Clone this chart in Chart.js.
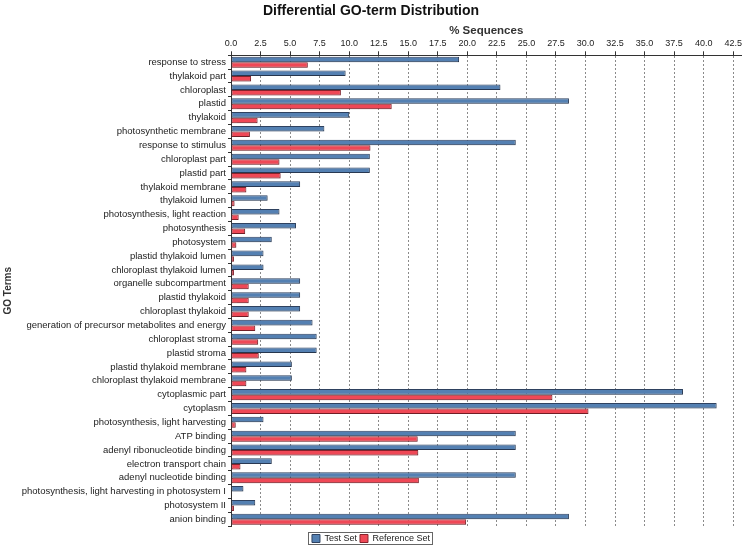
<!DOCTYPE html>
<html>
<head>
<meta charset="utf-8">
<script src="https://cdn.jsdelivr.net/npm/chart.js@4/dist/chart.umd.min.js"></script>
<style>
  html, body { margin: 0; padding: 0; background: #ffffff; }
  #wrap { width: 745px; height: 553px; }
</style>
</head>
<body>
<div id="wrap"><canvas id="c" width="745" height="553"></canvas></div>
<script>
const categories = [
  'response to stress', 'thylakoid part', 'chloroplast', 'plastid', 'thylakoid',
  'photosynthetic membrane', 'response to stimulus', 'chloroplast part', 'plastid part',
  'thylakoid membrane', 'thylakoid lumen', 'photosynthesis, light reaction', 'photosynthesis',
  'photosystem', 'plastid thylakoid lumen', 'chloroplast thylakoid lumen',
  'organelle subcompartment', 'plastid thylakoid', 'chloroplast thylakoid',
  'generation of precursor metabolites and energy', 'chloroplast stroma', 'plastid stroma',
  'plastid thylakoid membrane', 'chloroplast thylakoid membrane', 'cytoplasmic part',
  'cytoplasm', 'photosynthesis, light harvesting', 'ATP binding',
  'adenyl ribonucleotide binding', 'electron transport chain', 'adenyl nucleotide binding',
  'photosynthesis, light harvesting in photosystem I', 'photosystem II', 'anion binding'
];
const testSet = [
  19.3, 9.7, 22.8, 28.6, 10.0, 7.9, 24.1, 11.75, 11.75, 5.85, 3.1, 4.1, 5.5, 3.45,
  2.75, 2.75, 5.85, 5.85, 5.85, 6.9, 7.25, 7.25, 5.15, 5.15, 38.25, 41.1, 2.75,
  24.1, 24.1, 3.45, 24.1, 1.05, 2.05, 28.6
];
const referenceSet = [
  6.5, 1.7, 9.3, 13.6, 2.25, 1.6, 11.8, 4.1, 4.2, 1.3, 0.3, 0.65, 1.2, 0.45,
  0.25, 0.25, 1.5, 1.5, 1.5, 2.05, 2.3, 2.35, 1.3, 1.3, 27.2, 30.25, 0.4,
  15.8, 15.85, 0.8, 15.9, 0.05, 0.25, 19.9
];
const seriesNames = ['Test Set', 'Reference Set'];
const xTickStep = 2.5;
const xMin = 0;
const xMax = 43.2;

const FONT = "'Liberation Sans', Arial, Helvetica, sans-serif";

const shadowPlugin = {
  id: 'barShadow',
  beforeDatasetsDraw(chart) {
    const ctx = chart.ctx;
    ctx.save();
    ctx.shadowColor = 'rgba(0,0,0,0.18)';
    ctx.shadowOffsetX = 1;
    ctx.shadowOffsetY = 1;
    ctx.shadowBlur = 1.5;
  },
  afterDatasetsDraw(chart) {
    chart.ctx.restore();
  }
};

const legendBoxPlugin = {
  id: 'legendBox',
  afterDraw(chart) {
    const lg = chart.legend;
    if (!lg || !lg.legendHitBoxes || !lg.legendHitBoxes.length) return;
    let l = Infinity, r = -Infinity, t = Infinity, b = -Infinity;
    lg.legendHitBoxes.forEach(h => {
      l = Math.min(l, h.left); r = Math.max(r, h.left + h.width);
      t = Math.min(t, h.top); b = Math.max(b, h.top + h.height);
    });
    const ctx = chart.ctx;
    ctx.save();
    ctx.strokeStyle = '#666';
    ctx.lineWidth = 1;
    ctx.strokeRect(Math.round(l - 4) + 0.5, Math.round(t - 2) + 0.5, Math.round(r - l + 6), Math.round(b - t + 3));
    ctx.restore();
  }
};

new Chart(document.getElementById('c'), {
  type: 'bar',
  data: {
    labels: categories,
    datasets: [
      {
        label: seriesNames[0],
        data: testSet,
        backgroundColor: '#5480B2',
        borderColor: '#2F4260',
        borderWidth: 1,
        borderSkipped: false,
        categoryPercentage: 0.8,
        barPercentage: 1.0
      },
      {
        label: seriesNames[1],
        data: referenceSet,
        backgroundColor: '#EF4856',
        borderColor: '#86232C',
        borderWidth: 1,
        borderSkipped: false,
        categoryPercentage: 0.8,
        barPercentage: 1.0
      }
    ]
  },
  options: {
    indexAxis: 'y',
    responsive: false,
    animation: false,
    layout: { padding: { left: 0, right: 3, top: 0, bottom: 0 } },
    plugins: {
      title: {
        display: true,
        text: 'Differential GO-term Distribution',
        color: '#111',
        font: { family: FONT, size: 14, weight: 'bold' },
        padding: { top: 3, bottom: 5 }
      },
      legend: {
        display: true,
        position: 'bottom',
        title: {
          display: true,
          text: '',
          font: { family: FONT, size: 4 },
          padding: 0
        },
        labels: {
          boxWidth: 8,
          boxHeight: 8,
          padding: 3,
          color: '#222',
          font: { family: FONT, size: 9 }
        }
      },
      tooltip: { enabled: false }
    },
    scales: {
      x: {
        type: 'linear',
        position: 'top',
        min: xMin,
        max: xMax,
        ticks: {
          stepSize: xTickStep,
          includeBounds: false,
          maxRotation: 0,
          padding: 3,
          color: '#222',
          font: { family: FONT, size: 9, lineHeight: 1 },
          callback: v => Number(v).toFixed(1)
        },
        grid: {
          color: '#8a8a8a',
          lineWidth: 1,
          drawTicks: true,
          tickLength: 4,
          tickColor: '#333',
          tickBorderDash: []
        },
        border: { display: true, color: '#333', width: 1, dash: [2, 2] },
        title: {
          display: true,
          text: '% Sequences',
          color: '#333',
          font: { family: FONT, size: 11.5, weight: 'bold', lineHeight: 1 },
          padding: { top: 0, bottom: 0 }
        }
      },
      y: {
        type: 'category',
        position: 'left',
        ticks: {
          autoSkip: false,
          color: '#222',
          padding: 2,
          font: { family: FONT, size: 9.5 }
        },
        grid: {
          drawOnChartArea: false,
          drawTicks: true,
          tickLength: 3,
          tickColor: '#333'
        },
        border: { display: true, color: '#333', width: 1 },
        title: {
          display: true,
          text: 'GO Terms',
          color: '#333',
          font: { family: FONT, size: 10, weight: 'bold' },
          padding: { top: 2, bottom: 0 }
        },
        afterFit: s => { s.width = 231; }
      }
    }
  },
  plugins: [shadowPlugin, legendBoxPlugin]
});
</script>
</body>
</html>
